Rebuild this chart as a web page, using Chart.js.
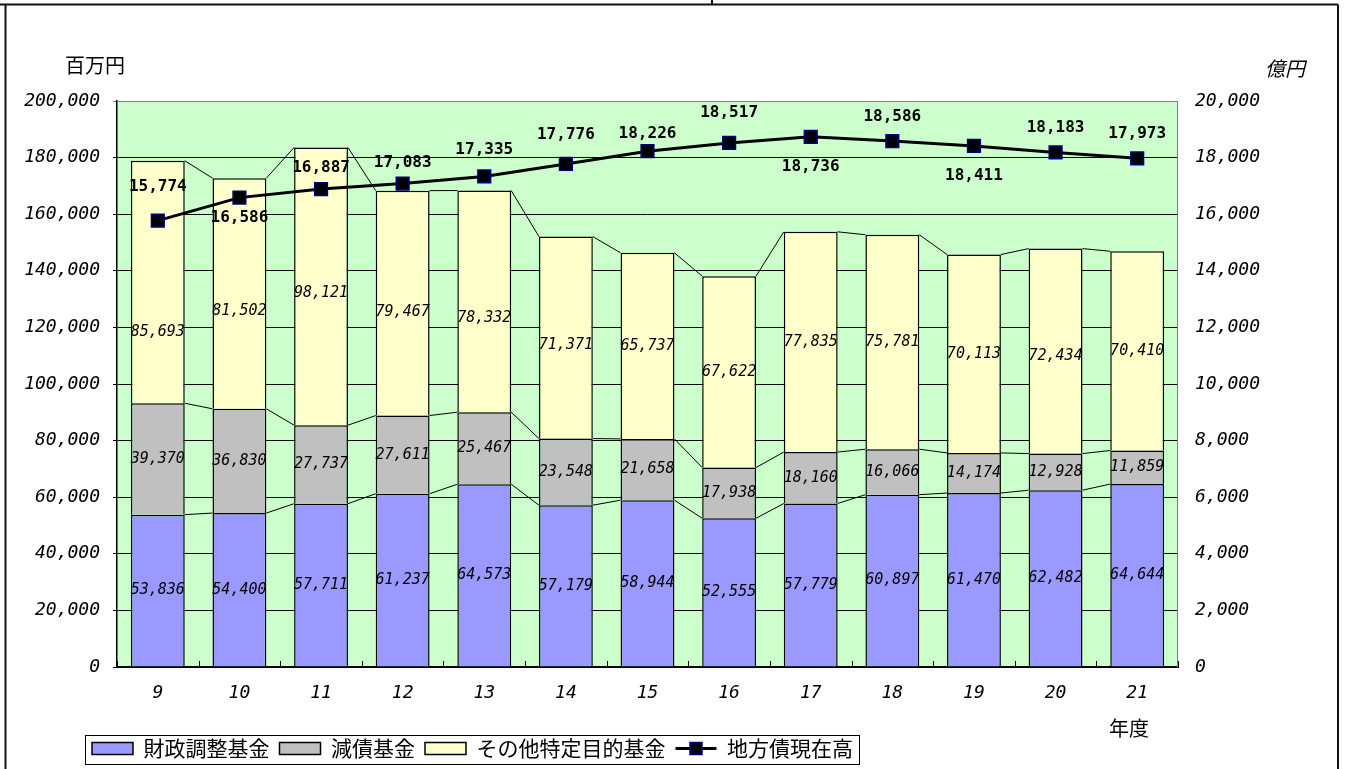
<!DOCTYPE html>
<html>
<head>
<meta charset="utf-8">
<script src="https://cdn.jsdelivr.net/npm/chart.js@4"></script>
<style>
  html, body { margin: 0; padding: 0; background: #fff; }
  #wrap { width: 1345px; height: 769px; }
</style>
</head>
<body>
<div id="wrap"><canvas id="fundChart" width="1345" height="769"></canvas></div>
<script>
// 年度 (平成)
const years = ["9", "10", "11", "12", "13", "14", "15", "16", "17", "18", "19", "20", "21"];

// 百万円
const adjustmentFund = [53836, 54400, 57711, 61237, 64573, 57179, 58944, 52555, 57779, 60897, 61470, 62482, 64644];
const redemptionFund = [39370, 36830, 27737, 27611, 25467, 23548, 21658, 17938, 18160, 16066, 14174, 12928, 11859];
const otherFund = [85693, 81502, 98121, 79467, 78332, 71371, 65737, 67622, 77835, 75781, 70113, 72434, 70410];

// 億円
const localDebt = [15774, 16586, 16887, 17083, 17335, 17776, 18226, 18517, 18736, 18586, 18411, 18183, 17973];

// axis ranges / tick steps
const leftAxis = [0, 200000, 20000];
const rightAxis = [0, 20000, 2000];

const seriesNames = ["財政調整基金", "減債基金", "その他特定目的基金", "地方債現在高"];

const numFont = "'DejaVu Sans Mono', 'Liberation Mono', monospace";
const jpFont = "'Noto Sans CJK JP', 'Noto Sans', sans-serif";
const fmt = v => Number(v).toLocaleString("en-US");

// where the labels of the line sit, relative to each marker (px, negative = above)
const debtLabelOffsets = [-34, 20, -21, -21, -27, -29, -17, -30, 30, -24, 30, -25, -25];
// nudges for the その他 labels, like in the source sheet
const otherLabelOffsets = [50, 18, 7, 9, 17, 8, 0, 0, 0, 0, 0, 5, 0];

const sheetPlugin = {
  id: "sheet",
  afterLayout(chart) {
    // legend sits under the plot, starting a bit left of the axis
    if (chart.legend) chart.legend.left += 82;
  },
  beforeDraw(chart) {
    const { ctx, chartArea: a } = chart;
    ctx.save();
    ctx.fillStyle = "#fff";
    ctx.fillRect(0, 0, chart.width, chart.height);
    ctx.fillStyle = "#CCFFCC";
    ctx.fillRect(a.left, a.top, a.right - a.left, a.bottom - a.top);
    ctx.restore();
  },
  beforeDatasetsDraw(chart) {
    const { ctx, chartArea: a } = chart;
    ctx.save();
    // plot border (top/right)
    ctx.strokeStyle = "#808080";
    ctx.lineWidth = 1;
    ctx.beginPath();
    ctx.moveTo(a.left, a.top + 0.5);
    ctx.lineTo(a.right - 0.5, a.top + 0.5);
    ctx.lineTo(a.right - 0.5, a.bottom);
    ctx.stroke();

    // small tick marks between categories
    const xs = chart.scales.x;
    ctx.strokeStyle = "#000";
    ctx.beginPath();
    for (let i = 0; i <= years.length; i++) {
      const px = Math.round(xs.getPixelForValue(i - 0.5)) + 0.5;
      ctx.moveTo(px, a.bottom);
      ctx.lineTo(px, a.bottom - 6);
    }
    ctx.stroke();

    // series lines between stacked bars
    ctx.lineWidth = 1;
    ctx.strokeStyle = "#000";
    for (let d = 0; d < 3; d++) {
      const bars = chart.getDatasetMeta(d).data;
      ctx.beginPath();
      for (let i = 0; i < bars.length - 1; i++) {
        const b1 = bars[i], b2 = bars[i + 1];
        ctx.moveTo(b1.x + b1.width / 2, b1.y);
        ctx.lineTo(b2.x - b2.width / 2, b2.y);
      }
      ctx.stroke();
    }
    ctx.restore();
  },
  afterDatasetsDraw(chart) {
    const { ctx } = chart;
    ctx.save();
    ctx.textAlign = "center";
    ctx.textBaseline = "middle";
    ctx.fillStyle = "#000";

    // bar segment labels
    ctx.font = "italic 15px " + numFont;
    for (let d = 0; d < 3; d++) {
      const ds = chart.data.datasets[d];
      chart.getDatasetMeta(d).data.forEach((bar, i) => {
        let cy = (bar.y + bar.base) / 2;
        if (d === 2) cy += otherLabelOffsets[i];
        ctx.fillText(fmt(ds.data[i]), bar.x, cy);
      });
    }

    // line labels
    ctx.font = "bold 16px " + numFont;
    chart.getDatasetMeta(3).data.forEach((pt, i) => {
      ctx.fillText(fmt(localDebt[i]), pt.x, pt.y + debtLabelOffsets[i]);
    });
    ctx.restore();
  },
  afterDraw(chart) {
    const { ctx, chartArea: a } = chart;
    ctx.save();

    // outer frame of the sheet
    ctx.strokeStyle = "#111";
    ctx.lineWidth = 2;
    ctx.beginPath();
    ctx.moveTo(0, 4.5);
    ctx.lineTo(1338, 4.5);
    ctx.moveTo(5.5, 4.5);
    ctx.lineTo(5.5, chart.height);
    ctx.moveTo(1338, 4.5);
    ctx.lineTo(1338, chart.height);
    ctx.moveTo(712, 0);
    ctx.lineTo(712, 4.5);
    ctx.stroke();

    // unit labels
    ctx.fillStyle = "#000";
    ctx.textBaseline = "middle";
    ctx.textAlign = "center";
    ctx.font = "20px " + jpFont;
    ctx.fillText("百万円", a.left - 22, a.top - 36);
    ctx.fillText("年度", 1129, 728);
    ctx.font = "italic 20px " + jpFont;
    ctx.fillText("億円", 1285, a.top - 33);

    // legend frame + line legend symbol
    const lg = chart.legend;
    if (lg && lg.legendHitBoxes.length) {
      const hb = lg.legendHitBoxes;
      const first = hb[0], last = hb[hb.length - 1];
      const cy = first.top + first.height / 2;
      ctx.strokeStyle = "#000";
      ctx.lineWidth = 1;
      ctx.strokeRect(first.left - 6.5, Math.round(cy - 14) + 0.5, last.left + last.width - first.left + 13, 29);

      const bw = lg.options.labels.boxWidth;
      const lx = last.left;
      ctx.lineWidth = 3;
      ctx.beginPath();
      ctx.moveTo(lx, cy);
      ctx.lineTo(lx + bw, cy);
      ctx.stroke();
      ctx.fillStyle = "#000";
      ctx.fillRect(lx + bw / 2 - 6, cy - 6, 12, 12);
      ctx.strokeStyle = "#000080";
      ctx.lineWidth = 1.5;
      ctx.strokeRect(lx + bw / 2 - 6, cy - 6, 12, 12);
    }
    ctx.restore();
  }
};

const ctx = document.getElementById("fundChart").getContext("2d");
new Chart(ctx, {
  type: "bar",
  data: {
    labels: years,
    datasets: [
      {
        label: seriesNames[0],
        data: adjustmentFund,
        backgroundColor: "#9999FF",
        borderColor: "#000",
        borderWidth: 1.5,
        yAxisID: "y",
        order: 1,
      },
      {
        label: seriesNames[1],
        data: redemptionFund,
        backgroundColor: "#C0C0C0",
        borderColor: "#000",
        borderWidth: 1.5,
        yAxisID: "y",
        order: 1,
      },
      {
        label: seriesNames[2],
        data: otherFund,
        backgroundColor: "#FFFFCC",
        borderColor: "#000",
        borderWidth: 1.5,
        yAxisID: "y",
        order: 1,
      },
      {
        type: "line",
        label: seriesNames[3],
        data: localDebt,
        yAxisID: "y2",
        borderColor: "#000",
        borderWidth: 3,
        pointStyle: "rect",
        pointRadius: 9,
        pointBackgroundColor: "#000",
        pointBorderColor: "#000080",
        pointBorderWidth: 1.5,
        tension: 0,
        order: 0,
      },
    ],
  },
  options: {
    responsive: false,
    animation: false,
    devicePixelRatio: 1,
    layout: { padding: { left: 0, right: 0, top: 101, bottom: 0 } },
    datasets: { bar: { barPercentage: 0.66, categoryPercentage: 1 } },
    plugins: {
      tooltip: { enabled: false },
      legend: {
        position: "bottom",
        align: "start",
        labels: {
          boxWidth: 41,
          boxHeight: 12,
          padding: 10,
          color: "#000",
          font: { family: jpFont, size: 21 },
          sort: (p, q) => p.datasetIndex - q.datasetIndex,
          generateLabels(chart) {
            const items = Chart.defaults.plugins.legend.labels.generateLabels(chart);
            items.forEach(it => {
              if (it.datasetIndex === 3) {
                it.fillStyle = "rgba(0,0,0,0)";
                it.strokeStyle = "rgba(0,0,0,0)";
                it.lineWidth = 0;
              } else {
                it.strokeStyle = "#000";
                it.lineWidth = 1.5;
              }
            });
            return items;
          },
        },
      },
    },
    scales: {
      x: {
        stacked: true,
        offset: true,
        grid: { display: false, drawTicks: false },
        border: { color: "#000", width: 2 },
        ticks: {
          color: "#000",
          padding: 16,
          font: { family: numFont, size: 18, style: "italic" },
        },
        afterFit(scale) { scale.height = 61; },
      },
      y: {
        stacked: true,
        position: "left",
        min: leftAxis[0],
        max: leftAxis[1],
        grid: {
          color: c => (c.tick && c.tick.value === leftAxis[1] ? "#808080" : "#000"),
          lineWidth: 1,
          tickLength: 4,
        },
        border: { color: "#000", width: 1.5 },
        ticks: {
          stepSize: leftAxis[2],
          color: "#000",
          padding: 13,
          font: { family: numFont, size: 18, style: "italic" },
          callback: v => fmt(v),
        },
        afterFit(scale) { scale.width = 117; },
      },
      y2: {
        position: "right",
        min: rightAxis[0],
        max: rightAxis[1],
        grid: { display: false, drawTicks: false },
        border: { display: false },
        ticks: {
          stepSize: rightAxis[2],
          color: "#000",
          padding: 17,
          font: { family: numFont, size: 18, style: "italic" },
          callback: v => fmt(v),
        },
        afterFit(scale) { scale.width = 167; },
      },
    },
  },
  plugins: [sheetPlugin],
});
</script>
</body>
</html>
